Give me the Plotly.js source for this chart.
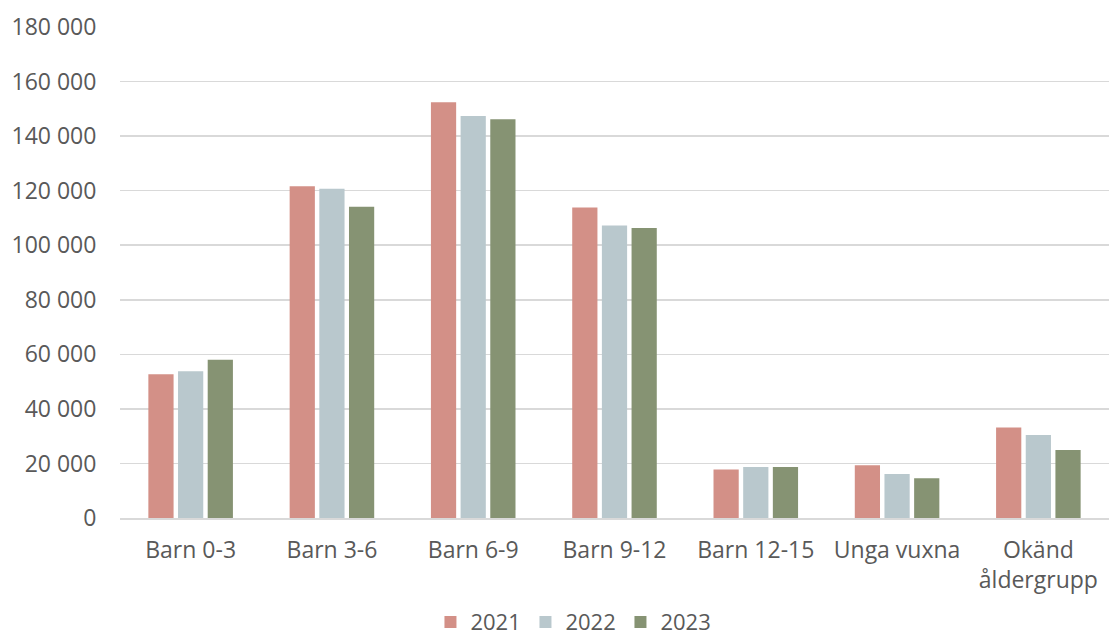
<!DOCTYPE html>
<html>
<head>
<meta charset="utf-8">
<script src="https://cdn.plot.ly/plotly-3.0.1.min.js"></script>
<style>html,body{margin:0;padding:0;background:#fff;}#chart{width:1109px;height:641px;}</style>
</head>
<body>
<div id="chart"></div>
<script>
var categories = ["Barn 0-3", "Barn 3-6", "Barn 6-9", "Barn 9-12", "Barn 12-15", "Unga vuxna", "Okänd<br>åldergrupp"];
var years = ["2021", "2022", "2023"];
var values2021 = [52700, 121600, 152400, 113800, 17800, 19300, 33200];
var values2022 = [53800, 120700, 147400, 107200, 18700, 16100, 30400];
var values2023 = [58000, 114100, 146200, 106300, 18700, 14600, 24900];
var yTickVals = [0, 20000, 40000, 60000, 80000, 100000, 120000, 140000, 160000, 180000];
var yTickText = ["0", "20 000", "40 000", "60 000", "80 000", "100 000", "120 000", "140 000", "160 000", "180 000"];
var colors = ["#d39087", "#b9c8cd", "#869373"];

var series = [values2021, values2022, values2023];
var traces = series.map(function (vals, i) {
  return {
    type: "bar",
    name: years[i],
    x: categories,
    y: vals,
    marker: {color: colors[i], line: {width: 0}},
    hoverinfo: "x+y"
  };
});

var font = {family: "Open Sans, sans-serif", size: 23, color: "#595959"};
var legendFont = {family: "Open Sans, sans-serif", size: 22, color: "#595959"};

var layout = {
  width: 1109,
  height: 641,
  margin: {l: 120, r: 0, t: 27, b: 123, autoexpand: false},
  paper_bgcolor: "#ffffff",
  plot_bgcolor: "#ffffff",
  font: font,
  barmode: "group",
  bargap: 0.37,
  bargroupgap: 0.15,
  showlegend: true,
  legend: {
    orientation: "h",
    x: 0.458,
    xanchor: "center",
    y: -0.212,
    yanchor: "middle",
    font: legendFont,
    itemwidth: 30,
    entrywidth: 50,
    traceorder: "normal"
  },
  xaxis: {
    type: "category",
    showgrid: false,
    showline: true,
    linecolor: "#d9d9d9",
    linewidth: 2,
    ticks: "outside",
    ticklen: 10,
    tickcolor: "rgba(0,0,0,0)",
    tickfont: font,
    zeroline: false,
    automargin: false,
    fixedrange: true
  },
  yaxis: {
    range: [0, 180000],
    tickvals: yTickVals,
    ticktext: yTickText,
    showgrid: true,
    gridcolor: "#d9d9d9",
    gridwidth: 1.5,
    zeroline: false,
    showline: false,
    ticks: "outside",
    ticklen: 18,
    tickcolor: "rgba(0,0,0,0)",
    tickfont: font,
    automargin: false,
    fixedrange: true
  }
};

Plotly.newPlot("chart", traces, layout, {displayModeBar: false, staticPlot: true});
</script>
</body>
</html>
